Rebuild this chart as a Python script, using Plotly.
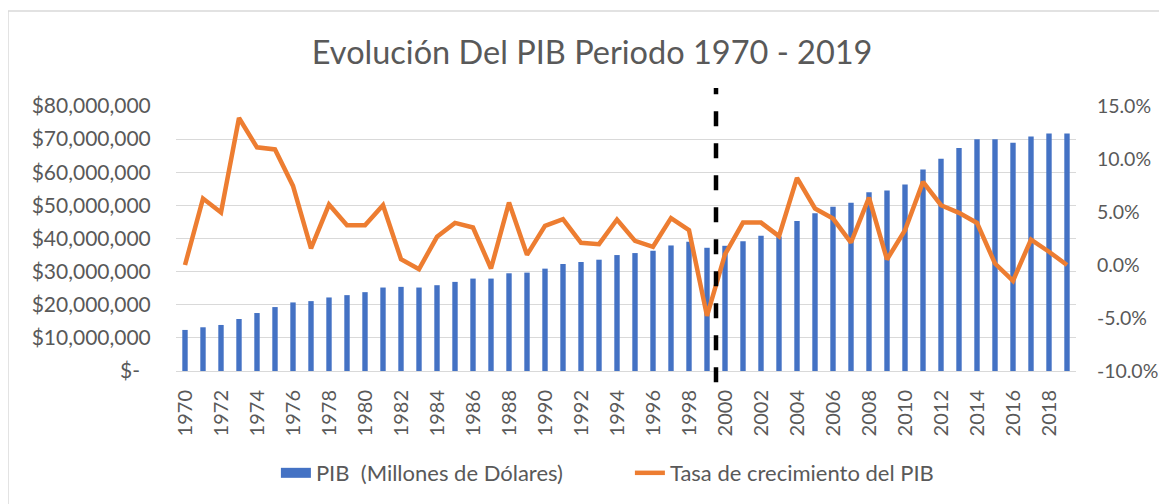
import plotly.graph_objects as go

years = list(range(1970, 2020))
pib = [12.4, 13.2, 13.9, 15.7, 17.5, 19.3, 20.7, 21.1, 22.2, 22.9,
       23.8, 25.2, 25.4, 25.2, 25.9, 26.9, 27.9, 27.9, 29.5, 29.7,
       30.9, 32.3, 32.9, 33.6, 35.0, 35.6, 36.3, 37.9, 39.0, 37.2,
       37.8, 39.2, 40.8, 40.6, 45.3, 47.6, 49.6, 50.8, 54.0, 54.5,
       56.3, 60.8, 64.1, 67.3, 70.0, 70.0, 68.9, 70.8, 71.7, 71.7]
pib = [v * 1_000_000 for v in pib]
tasa = [0.0, 6.27, 4.95, 13.87, 11.1, 10.9, 7.46, 1.56, 5.7, 3.75,
        3.75, 5.64, 0.55, -0.39, 2.66, 3.97, 3.54, -0.33, 5.89, 0.96,
        3.69, 4.32, 2.09, 1.97, 4.29, 2.28, 1.72, 4.42, 3.28, -4.8,
        1.0, 4.0, 4.0, 2.72, 8.22, 5.33, 4.38, 2.12, 6.36, 0.52,
        3.28, 7.84, 5.64, 4.92, 3.97, 0.14, -1.49, 2.4, 1.25, 0.0]
tasa = [v / 100 for v in tasa]

left_vals = [0, 10e6, 20e6, 30e6, 40e6, 50e6, 60e6, 70e6, 80e6]
left_text = ["$-\u00a0\u00a0", "$10,000,000", "$20,000,000", "$30,000,000", "$40,000,000",
             "$50,000,000", "$60,000,000", "$70,000,000", "$80,000,000"]
right_vals = [-0.10, -0.05, 0.0, 0.05, 0.10, 0.15]
right_text = ["-10.0%", "-5.0%", "0.0%", "5.0%", "10.0%", "15.0%"]
x_ticks = list(range(1970, 2020, 2))
split_year = 1999.5

FONT = "Lato"
GREY = "#595959"
BLUE = "#4472C4"
ORANGE = "#ED7D31"
PIB_NAME = "PIB\u00a0 (Millones de Dólares)"

fig = go.Figure()
fig.add_trace(go.Bar(x=years, y=pib, name=PIB_NAME, showlegend=False,
                     marker=dict(color=BLUE, line=dict(width=0))))
# legend-only entry so the swatch is a wide rectangle like the original
fig.add_trace(go.Scatter(x=[None], y=[None], name=PIB_NAME, mode="lines",
                         line=dict(color=BLUE, width=12), hoverinfo="skip"))
fig.add_trace(go.Scatter(x=years, y=tasa, name="Tasa de crecimiento del PIB",
                         mode="lines", yaxis="y2",
                         line=dict(color=ORANGE, width=4.5)))

fig.update_layout(
    width=1159, height=496,
    margin=dict(l=168, r=91, t=98, b=133, autoexpand=False),
    paper_bgcolor="white", plot_bgcolor="white",
    font=dict(family=FONT, color=GREY, size=20),
    bargap=0.7,
    showlegend=True,
    title=dict(text="Evolución Del PIB Periodo 1970 - 2019",
               x=0.504, xref="container", xanchor="center", y=0.911, yanchor="middle",
               font=dict(family=FONT, size=32.5, color=GREY)),
    legend=dict(orientation="h", x=0.111, xanchor="left", y=-0.385, yanchor="middle",
                font=dict(family=FONT, size=22, color=GREY), itemwidth=30,
                entrywidth=309),
    xaxis=dict(range=[1969.5, 2019.5], tickmode="array", tickvals=x_ticks,
               ticktext=[str(t) for t in x_ticks], tickangle=-90,
               showgrid=False, showline=False, zeroline=False, automargin=False,
               ticks="outside", ticklen=10, tickcolor="rgba(0,0,0,0)",
               tickfont=dict(size=20)),
    yaxis=dict(range=[0, 80e6], tickmode="array", tickvals=left_vals, ticktext=left_text,
               showgrid=True, gridcolor="#d9d9d9", gridwidth=1.3,
               zeroline=True, zerolinecolor="#d9d9d9", zerolinewidth=1.3,
               showline=False, automargin=False,
               ticks="outside", ticklen=20, tickcolor="rgba(0,0,0,0)",
               tickfont=dict(size=21)),
    yaxis2=dict(range=[-0.10, 0.15], overlaying="y", side="right",
                tickmode="array", tickvals=right_vals, ticktext=right_text,
                showgrid=False, zeroline=False, showline=False, automargin=False,
                ticks="outside", ticklen=16, tickcolor="rgba(0,0,0,0)",
                tickfont=dict(size=19.5)),
    shapes=[
        dict(type="line", xref="x", yref="paper", x0=split_year, x1=split_year,
             y0=-0.042, y1=1.068, line=dict(color="black", width=4.5, dash="15px,17px")),
        dict(type="rect", xref="paper", yref="paper", x0=-0.1867, x1=1.2,
             y0=-0.6, y1=1.3585, line=dict(color="#d9d9d9", width=1.5), layer="below"),
    ],
)

fig.write_html("out.html")
